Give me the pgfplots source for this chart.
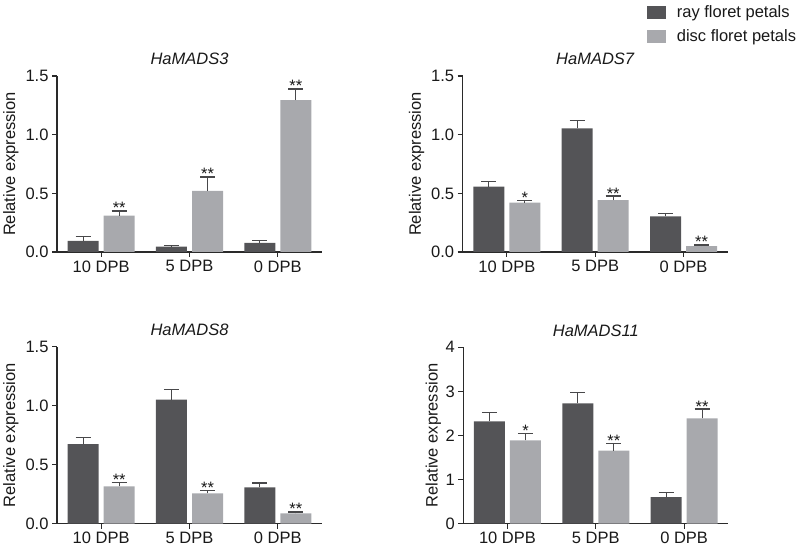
\documentclass[border=0pt]{standalone}
\usepackage{fontspec}
\setmainfont{Liberation Sans}
\usepackage{pgfplots}
\pgfplotsset{compat=1.18}
\definecolor{ray}{HTML}{545457}
\definecolor{disc}{HTML}{A8A9AD}
\definecolor{err}{HTML}{48484A}
\definecolor{axc}{HTML}{2A2A2A}
\newcommand{\fs}{\fontsize{16.5}{19.8}\selectfont}
\pgfplotsset{
  panel/.style={
    scale only axis, width=265pt,
    xmin=-0.5, xmax=2.5, ymin=0,
    axis lines=left,
    axis line style={-, line width=1.2pt, axc},
    xtick={0,1,2}, xticklabels={10 DPB,5 DPB,0 DPB},
    tick style={line width=1.2pt, axc},
    major tick length=5pt, tick align=outside,
    ylabel={Relative expression},
    /pgf/number format/assume math mode=true,
    tick label style={font=\fs, text=black!90},
    label style={font=\fs, text=black!90},
    ylabel style={anchor=center},
    title style={font=\fs\itshape, text=black!90, at={(axis description cs:0.5,1)}, anchor=base, yshift=5pt},
    clip=false,
    legend image code/.code={\fill[#1] (0pt,-6.3pt) rectangle (19.3pt,6.3pt);},
  },
  raybar/.style={ybar, bar width=31pt, bar shift=0pt, fill=ray, draw=none, forget plot,
    error bars/.cd, y dir=plus, y explicit,
    error bar style={err, line width=1.2pt},
    error mark options={err, rotate=90, mark size=7.5pt, line width=1.2pt}},
  discbar/.style={ybar, bar width=31pt, bar shift=0pt, fill=disc, draw=none, forget plot,
    error bars/.cd, y dir=plus, y explicit,
    error bar style={err, line width=1.2pt},
    error mark options={err, rotate=90, mark size=7.5pt, line width=1.2pt}},
  stars/.style={draw=none, mark=none, forget plot, nodes near coords, point meta=explicit symbolic,
    nodes near coords style={anchor=base, yshift=-3pt, font=\fs, text=black!90, inner sep=0pt}},
  dec1/.style={ytick={0,0.5,1,1.5}, ymax=1.5,
    yticklabel style={/pgf/number format/.cd, fixed, fixed zerofill, precision=1}},
}
\begin{document}
\begin{tikzpicture}
\useasboundingbox (0,0) rectangle (800pt,549pt);

% Panel 1
\begin{axis}[panel, dec1, height=176pt, at={(57pt,297pt)}, anchor=south west,
  title={HaMADS3}, ylabel style={at={(axis description cs:-0.174,0.5)}}]
\addplot[raybar] coordinates {(-0.204,0.094) +- (0,0.036) (0.796,0.045) +- (0,0.012) (1.796,0.077) +- (0,0.023)};
\addplot[discbar] coordinates {(0.204,0.31) +- (0,0.04) (1.204,0.52) +- (0,0.12) (2.204,1.295) +- (0,0.095)};
\addplot[stars] coordinates {(0.204,0.35) [**] (1.204,0.64) [**] (2.204,1.39) [**]};
\end{axis}

% Panel 2
\begin{axis}[panel, dec1, height=176pt, at={(462.7pt,297pt)}, anchor=south west,
  title={HaMADS7}, ylabel style={at={(axis description cs:-0.174,0.5)}},
  legend style={at={(axis description cs:0.693,1.41)}, anchor=north west, draw=none, fill=none,
    inner sep=0pt, row sep=6pt, font=\fs, text=black!90,
    /tikz/every odd column/.append style={column sep=9pt}},
  legend cell align=left]
\addlegendimage{fill=ray, draw=none}
\addlegendentry{ray floret petals}
\addlegendimage{fill=disc, draw=none}
\addlegendentry{disc floret petals}
\addplot[raybar] coordinates {(-0.204,0.557) +- (0,0.045) (0.796,1.054) +- (0,0.066) (1.796,0.304) +- (0,0.026)};
\addplot[discbar] coordinates {(0.204,0.42) +- (0,0.02) (1.204,0.443) +- (0,0.034) (2.204,0.051) +- (0,0.009)};
\addplot[stars] coordinates {(0.204,0.44) [*] (1.204,0.477) [**] (2.204,0.06) [**]};
\end{axis}

% Panel 3
\begin{axis}[panel, dec1, height=177pt, at={(57pt,25.3pt)}, anchor=south west,
  title={HaMADS8}, ylabel style={at={(axis description cs:-0.174,0.5)}}]
\addplot[raybar] coordinates {(-0.204,0.675) +- (0,0.057) (0.796,1.051) +- (0,0.088) (1.796,0.308) +- (0,0.037)};
\addplot[discbar] coordinates {(0.204,0.317) +- (0,0.033) (1.204,0.257) +- (0,0.026) (2.204,0.088) +- (0,0.012)};
\addplot[stars] coordinates {(0.204,0.35) [**] (1.204,0.283) [**] (2.204,0.10) [**]};
\end{axis}

% Panel 4
\begin{axis}[panel, height=176.4pt, at={(463.3pt,25.3pt)}, anchor=south west,
  ymax=4, ytick={0,1,2,3,4},
  title={HaMADS11}, ylabel style={at={(axis description cs:-0.113,0.5)}}]
\addplot[raybar] coordinates {(-0.204,2.32) +- (0,0.21) (0.796,2.73) +- (0,0.24) (1.796,0.60) +- (0,0.10)};
\addplot[discbar] coordinates {(0.204,1.89) +- (0,0.15) (1.204,1.656) +- (0,0.164) (2.204,2.39) +- (0,0.21)};
\addplot[stars] coordinates {(0.204,2.04) [*] (1.204,1.82) [**] (2.204,2.60) [**]};
\end{axis}
\end{tikzpicture}
\end{document}
